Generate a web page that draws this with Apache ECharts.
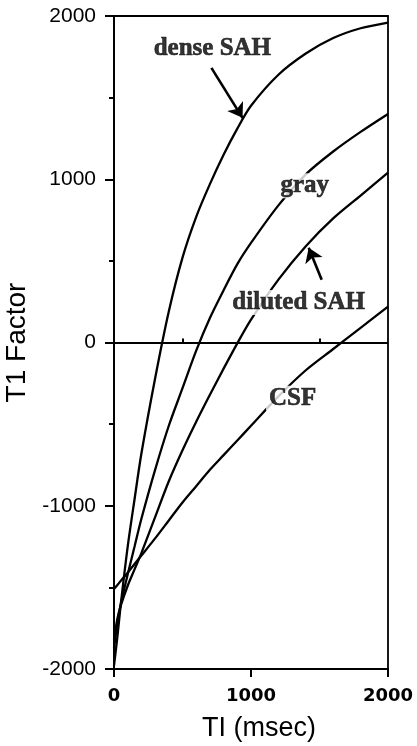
<!DOCTYPE html>
<html>
<head>
<meta charset="utf-8">
<script src="https://cdn.jsdelivr.net/npm/echarts@6/dist/echarts.min.js"></script>
<style>
html,body{margin:0;padding:0;background:#fff;}
#chart{width:417px;height:746px;}
</style>
</head>
<body>
<div id="chart"></div>
<script>
const TI = [0,25,50,100,150,200,300,400,500,600,700,800,900,1000,1200,1400,1600,1800,2000];
const denseSAH   = [-1980,-1800,-1600,-1250,-960,-680,-220,190,520,770,970,1150,1310,1450,1640,1770,1865,1925,1960];
const gray       = [-1870,-1720,-1600,-1420,-1250,-1080,-780,-510,-280,-50,150,320,480,610,840,1030,1170,1290,1400];
const dilutedSAH = [-1820,-1690,-1610,-1490,-1390,-1290,-1070,-850,-660,-485,-320,-160,-5,140,385,590,760,900,1040];
const CSF        = [-1510,-1485,-1460,-1410,-1357,-1305,-1200,-1090,-980,-880,-780,-690,-600,-510,-330,-170,-40,90,220];
const curveNames = ['dense SAH','gray','diluted SAH','CSF'];
const yTicks = [-2000,-1000,0,1000,2000];
const xTicks = [0,1000,2000];
// annotation anchors in data units [TI, value]
const labelPos = [[718,1798],[1392,960],[1348,245],[1304,-342]];
const arrows = [[[711,1682],[938,1376]],[[1516,385],[1421,581]]];

const chart = echarts.init(document.getElementById('chart'));
const pairs = v => TI.map((t,i)=>[t,v[i]]);
const curves = [denseSAH, gray, dilutedSAH, CSF];

const series = curves.map((v,i)=>({
  type:'line', name: curveNames[i], data: pairs(v), smooth:0.3, showSymbol:false,
  lineStyle:{color:'#000', width:2.3}, itemStyle:{color:'#000'}, z:2, silent:true
}));
series[0].markLine = {
  silent:true, symbol:'none', label:{show:false},
  lineStyle:{color:'#000', width:1.8, type:'solid'},
  data:[{yAxis:0}]
};
series[1].markLine = {
  silent:true, symbol:['none','arrow'], symbolSize:14, label:{show:false},
  itemStyle:{color:'#000'},
  lineStyle:{color:'#000', width:2.6, type:'solid'},
  data: arrows.map(a=>[{coord:a[0]},{coord:a[1]}])
};
series.push({
  type:'scatter', z:10, symbolSize:0, silent:true, itemStyle:{color:'#000'},
  data: labelPos.map((p,i)=>({name:curveNames[i], value:p})),
  label:{show:true, position:'inside', formatter:'{b}', color:'#000',
    textBorderWidth:0.6, textBorderColor:'#000',
    fontFamily:'Liberation Serif', fontWeight:'bold', fontSize:25,
    backgroundColor:'#fff', padding:[0,3]}
});

chart.setOption({
  animation:false,
  backgroundColor:'#fff',
  grid:{left:114, right:29, top:16, bottom:77, outerBoundsMode:'none', containLabel:false,
    show:true, borderColor:'#000', borderWidth:1.8},
  xAxis:[{
    type:'value', min:0, max:2000, interval:1000,
    name:'TI (msec)', nameLocation:'middle', nameGap:46,
    nameTextStyle:{fontFamily:'Liberation Sans', fontSize:27, color:'#000', padding:[0,0,0,16]},
    axisLine:{show:true, onZero:false, lineStyle:{color:'#000', width:2}},
    axisTick:{show:true, inside:false, length:8, lineStyle:{color:'#000', width:2}, customValues:xTicks},
    axisLabel:{color:'#000', fontFamily:'DejaVu Sans', fontWeight:'bold', fontSize:18, margin:18,
      customValues:xTicks, formatter:v=>String(v)},
    splitLine:{show:false}
  },{
    type:'value', min:0, max:2000, position:'bottom',
    axisLine:{show:false}, axisLabel:{show:false}, splitLine:{show:false},
    axisTick:{show:true, inside:true, length:4, lineStyle:{color:'#000', width:2}, customValues:[500,1500]}
  }],
  yAxis:{
    type:'value', min:-2000, max:2000, interval:1000,
    name:'T1 Factor', nameLocation:'middle', nameGap:68, nameRotate:90,
    nameTextStyle:{fontFamily:'Liberation Sans', fontSize:28, color:'#000'},
    axisLine:{show:true, onZero:false, lineStyle:{color:'#000', width:2}},
    axisTick:{show:true, inside:false, length:9, lineStyle:{color:'#000', width:2}},
    minorTick:{show:true, splitNumber:2, length:5, lineStyle:{color:'#000', width:2}},
    axisLabel:{color:'#000', fontFamily:'Liberation Sans', fontSize:21, margin:18,
      customValues:yTicks, formatter:v=>String(v)},
    splitLine:{show:false}
  },
  series: series
});
</script>
</body>
</html>
